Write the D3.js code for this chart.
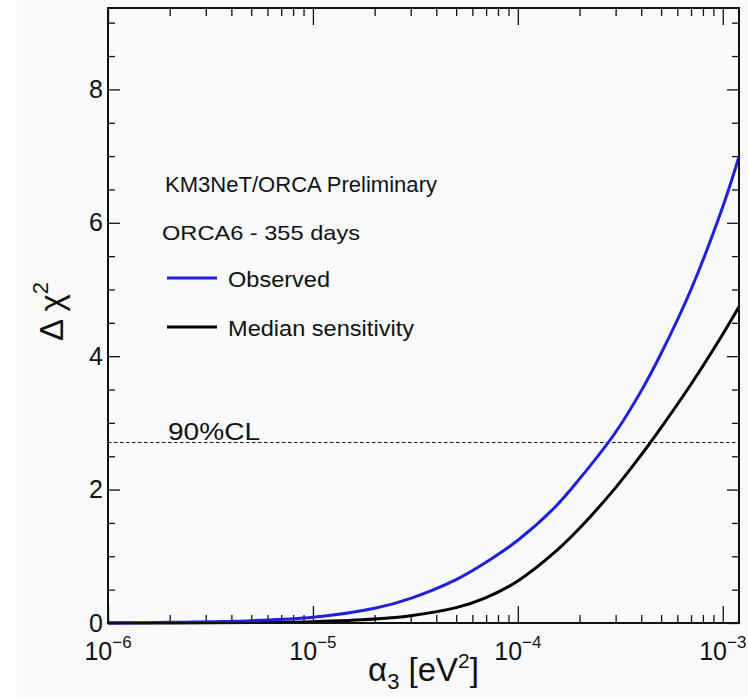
<!DOCTYPE html>
<html>
<head>
<meta charset="utf-8">
<script src="https://cdn.jsdelivr.net/npm/d3@7"></script>
<style>
  html, body { margin: 0; padding: 0; background: #ffffff; }
  svg { display: block; }
  text { font-family: "Liberation Sans", Arial, Helvetica, sans-serif; fill: #111; }
</style>
</head>
<body>
<svg id="chart" width="748" height="699"></svg>
<script>
// α3 scan points [eV^2] and Δχ² profiles
const alpha    = [1e-6, 2e-6, 5e-6, 1e-5, 2e-5, 3e-5, 5e-5, 7e-5, 1e-4, 1.5e-4, 2e-4, 3e-4, 4e-4, 5e-4, 7e-4, 1e-3, 1.2e-3];
const observed = [0, 0.01, 0.035, 0.085, 0.22, 0.37, 0.65, 0.91, 1.24, 1.72, 2.16, 2.86, 3.48, 4.04, 5.00, 6.24, 6.99];
const median   = [0, 0.001, 0.006, 0.02, 0.06, 0.11, 0.23, 0.38, 0.63, 1.05, 1.42, 2.03, 2.52, 2.93, 3.58, 4.33, 4.74];

const cl90 = 2.706;
const xMajorTicks = [1e-6, 1e-5, 1e-4, 1e-3];
const xTickExponents = ["−6", "−5", "−4", "−3"];
const yMajorTicks = [0, 2, 4, 6, 8];
const yMinorStep = 0.5;

const svg = d3.select("#chart");
const W = 748, H = 699;
const m = { left: 108, right: 9, top: 8, bottom: 76 };

svg.append("rect").attr("x", 17).attr("y", 0).attr("width", W - 17).attr("height", 697).attr("fill", "#f9fafc");

const x = d3.scaleLog().domain([1e-6, 1.2e-3]).range([m.left, W - m.right]);
const y = d3.scaleLinear().domain([0, 9.22]).range([H - m.bottom, m.top]);

const x0 = x.range()[0], x1 = x.range()[1];
const y0 = y.range()[0], y1 = y.range()[1];

// minor ticks: 2..9 in each decade
const xMinor = [];
for (let e = -6; e <= -3; e++) {
  for (let k = 2; k <= 9; k++) {
    const v = k * Math.pow(10, e);
    if (v <= x.domain()[1]) xMinor.push(v);
  }
}
const yMinor = d3.range(0, 9.22, yMinorStep).filter(v => !yMajorTicks.includes(v));

const axisStyle = g => {
  g.select(".domain").remove();
  g.selectAll(".tick line").attr("stroke", "#111").attr("stroke-width", 1.3);
};

// bottom axis
svg.append("g").attr("transform", `translate(0,${y0})`)
  .call(d3.axisBottom(x).tickValues(xMinor).tickSize(-8).tickFormat(""))
  .call(axisStyle);
svg.append("g").attr("transform", `translate(0,${y0})`)
  .call(d3.axisBottom(x).tickValues(xMajorTicks).tickSize(-17).tickFormat(""))
  .call(axisStyle);
// top axis
svg.append("g").attr("transform", `translate(0,${y1})`)
  .call(d3.axisTop(x).tickValues(xMinor).tickSize(-8).tickFormat(""))
  .call(axisStyle);
svg.append("g").attr("transform", `translate(0,${y1})`)
  .call(d3.axisTop(x).tickValues(xMajorTicks).tickSize(-17).tickFormat(""))
  .call(axisStyle);
// left axis
svg.append("g").attr("transform", `translate(${x0},0)`)
  .call(d3.axisLeft(y).tickValues(yMinor).tickSize(-7).tickFormat(""))
  .call(axisStyle);
const yAxisG = svg.append("g").attr("transform", `translate(${x0},0)`)
  .call(d3.axisLeft(y).tickValues(yMajorTicks).tickSize(-12).tickPadding(5).tickFormat(d3.format("d")))
  .call(axisStyle);
yAxisG.selectAll(".tick text").attr("font-size", 25).attr("font-family", "Liberation Sans, Arial, sans-serif").attr("fill", "#111");
// right axis
svg.append("g").attr("transform", `translate(${x1},0)`)
  .call(d3.axisRight(y).tickValues(yMinor).tickSize(-7).tickFormat(""))
  .call(axisStyle);
svg.append("g").attr("transform", `translate(${x1},0)`)
  .call(d3.axisRight(y).tickValues(yMajorTicks).tickSize(-12).tickFormat(""))
  .call(axisStyle);

// x tick labels 10^n
xMajorTicks.forEach((v, i) => {
  const t = svg.append("text").attr("x", x(v)).attr("y", y0 + 37)
    .attr("text-anchor", "middle").attr("font-size", 25);
  t.append("tspan").text("10");
  t.append("tspan").attr("font-size", 17).attr("dy", -12).text(xTickExponents[i]);
});

// 90% CL line
svg.append("line")
  .attr("x1", x0).attr("x2", x1).attr("y1", y(cl90)).attr("y2", y(cl90))
  .attr("stroke", "#111").attr("stroke-width", 1.2).attr("stroke-dasharray", "3.5,2.5");
svg.append("text").attr("x", 168).attr("y", y(cl90) - 3).attr("font-size", 24)
  .attr("textLength", 92).attr("lengthAdjust", "spacingAndGlyphs").text("90%CL");

// curves
const line = d3.line()
  .x(d => x(d[0])).y(d => y(d[1]))
  .curve(d3.curveCatmullRom.alpha(0.5));

svg.append("path").datum(alpha.map((a, i) => [a, median[i]]))
  .attr("fill", "none").attr("stroke", "#000").attr("stroke-width", 3).attr("d", line);
svg.append("path").datum(alpha.map((a, i) => [a, observed[i]]))
  .attr("fill", "none").attr("stroke", "#2020dc").attr("stroke-width", 3).attr("d", line);

// frame
svg.append("rect").attr("x", x0).attr("y", y1).attr("width", x1 - x0).attr("height", y0 - y1)
  .attr("fill", "none").attr("stroke", "#111").attr("stroke-width", 2);

// legend block
svg.append("text").attr("x", 165).attr("y", 192).attr("font-size", 22)
  .attr("textLength", 272).attr("lengthAdjust", "spacingAndGlyphs").text("KM3NeT/ORCA Preliminary");
svg.append("text").attr("x", 162).attr("y", 240).attr("font-size", 21)
  .attr("textLength", 198).attr("lengthAdjust", "spacingAndGlyphs").text("ORCA6 - 355 days");
const legend = [
  { label: "Observed", color: "#2020dc", y: 278, w: 102 },
  { label: "Median sensitivity", color: "#000", y: 327, w: 186 }
];
legend.forEach(d => {
  svg.append("line").attr("x1", 167).attr("x2", 217).attr("y1", d.y).attr("y2", d.y)
    .attr("stroke", d.color).attr("stroke-width", 3);
  svg.append("text").attr("x", 228).attr("y", d.y + 9).attr("font-size", 22)
    .attr("textLength", d.w).attr("lengthAdjust", "spacingAndGlyphs").text(d.label);
});

// axis titles
const xt = svg.append("text").attr("x", (x0 + x1) / 2).attr("y", 681)
  .attr("text-anchor", "middle").attr("font-size", 33);
xt.append("tspan").text("α");
xt.append("tspan").attr("font-size", 22).attr("dy", 8).text("3");
xt.append("tspan").attr("dy", -8).text(" [eV");
xt.append("tspan").attr("font-size", 21).attr("dy", -13).text("2");
xt.append("tspan").attr("dy", 13).text("]");

const yt = svg.append("text").attr("transform", `translate(63,${(y0 + y1) / 2 - 4}) rotate(-90)`)
  .attr("text-anchor", "middle").attr("font-size", 33);
yt.append("tspan").text("Δ χ");
yt.append("tspan").attr("font-size", 22).attr("dy", -15).text("2");
</script>
</body>
</html>
